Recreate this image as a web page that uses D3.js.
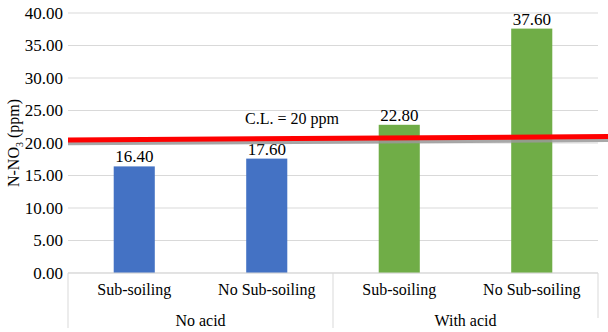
<!DOCTYPE html>
<html>
<head>
<meta charset="utf-8">
<script src="https://cdn.jsdelivr.net/npm/d3@7"></script>
<style>
  body { margin: 0; background: #fff; }
  svg text { font-family: 'Liberation Serif', serif; }
</style>
</head>
<body>
<div class="content"></div>
<script>
// chart data
const groups = ['No acid', 'With acid'];
const subCats = ['Sub-soiling', 'No Sub-soiling', 'Sub-soiling', 'No Sub-soiling'];
const barGroup = [0, 0, 1, 1];
const values = [16.40, 17.60, 22.80, 37.60];
const barColors = ['#4472c4', '#4472c4', '#70ad47', '#70ad47'];
const yTicks = [0, 5, 10, 15, 20, 25, 30, 35, 40];
// critical limit line, drawn slightly tilted as in the picture (start / end value)
const clLine = [20.45, 21.0];
const clShadow = [19.95, 20.45];
const clLabel = 'C.L. = 20 ppm';

function main() {
  const svgW = 608, svgH = 332;
  const m = { left: 68, right: 10, top: 13, bottom: 59 };
  const svg = d3.select('.content').append('svg')
                .attr('width', svgW)
                .attr('height', svgH);

  const x = d3.scaleBand()
              .domain(d3.range(values.length))
              .range([m.left, svgW - m.right])
              .paddingInner(0.69)
              .paddingOuter(0.345);
  const y = d3.scaleLinear()
              .domain([0, 40])
              .range([svgH - m.bottom, m.top]);
  const step = x.step();
  const x0 = m.left, x1 = svgW - m.right;

  // gridlines
  svg.append('g').selectAll('line')
     .data(yTicks)
     .join('line')
     .attr('x1', x0).attr('x2', x1)
     .attr('y1', d => y(d)).attr('y2', d => y(d))
     .attr('stroke', '#d9d9d9').attr('stroke-width', 1);

  // y axis labels
  svg.append('g').selectAll('text')
     .data(yTicks)
     .join('text')
     .attr('x', x0 - 5)
     .attr('y', d => y(d))
     .attr('dy', '0.35em')
     .attr('text-anchor', 'end')
     .style('font-size', '17px')
     .text(d => d3.format('.2f')(d));

  // y title with subscript
  const yt = svg.append('text')
     .attr('transform', 'translate(19,' + ((y(0) + y(40)) / 2) + ') rotate(-90)')
     .attr('text-anchor', 'middle')
     .style('font-size', '16px');
  yt.append('tspan').text('N-NO');
  yt.append('tspan').style('font-size', '10px').attr('dy', 4).text('3');
  yt.append('tspan').attr('dy', -4).text(' (ppm)');

  // bars
  svg.append('g').selectAll('rect')
     .data(values)
     .join('rect')
     .attr('x', (d, i) => x(i))
     .attr('width', x.bandwidth())
     .attr('y', d => y(d))
     .attr('height', d => y(0) - y(d))
     .attr('fill', (d, i) => barColors[i]);

  // value labels
  svg.append('g').selectAll('text')
     .data(values)
     .join('text')
     .attr('x', (d, i) => x(i) + x.bandwidth() / 2)
     .attr('y', d => y(d) - 4)
     .attr('text-anchor', 'middle')
     .style('font-size', '17px')
     .text(d => d3.format('.2f')(d));

  // category axis: baseline and group dividers
  const base = y(0);
  svg.append('line')
     .attr('x1', x0).attr('x2', x1)
     .attr('y1', base).attr('y2', base)
     .attr('stroke', '#d9d9d9');
  const dividers = [0, 2, 4];
  svg.append('g').selectAll('line')
     .data(dividers)
     .join('line')
     .attr('x1', d => x0 + d * step).attr('x2', d => x0 + d * step)
     .attr('y1', base)
     .attr('y2', d => d === 4 ? base + 45 : svgH - 4)
     .attr('stroke', '#d9d9d9');

  // sub category labels
  svg.append('g').selectAll('text')
     .data(subCats)
     .join('text')
     .attr('x', (d, i) => x(i) + x.bandwidth() / 2)
     .attr('y', base + 22)
     .attr('text-anchor', 'middle')
     .style('font-size', '16px')
     .text(d => d);

  // group labels
  svg.append('g').selectAll('text')
     .data(groups)
     .join('text')
     .attr('x', (d, g) => {
       const idx = barGroup.map((b, i) => b === g ? i : -1).filter(i => i >= 0);
       return x0 + (d3.min(idx) + d3.max(idx) + 1) / 2 * step;
     })
     .attr('y', base + 53)
     .attr('text-anchor', 'middle')
     .style('font-size', '16px')
     .text(d => d);

  // critical limit line (shadow + red)
  const lx = d3.scaleLinear().domain([0, 1]).range([x0, svgW]);
  const line = d3.line().x((d, i) => lx(i)).y(d => y(d));
  svg.append('path').datum(clShadow)
     .attr('d', line)
     .attr('stroke', '#999').attr('stroke-opacity', 0.85)
     .attr('stroke-width', 4).attr('fill', 'none');
  svg.append('path').datum(clLine)
     .attr('d', line)
     .attr('stroke', '#ff0000')
     .attr('stroke-width', 5).attr('fill', 'none');

  svg.append('text')
     .attr('x', 292)
     .attr('y', y(clLine[0]) - 16)
     .attr('text-anchor', 'middle')
     .style('font-size', '16px')
     .text(clLabel);
}
main();
</script>
</body>
</html>
